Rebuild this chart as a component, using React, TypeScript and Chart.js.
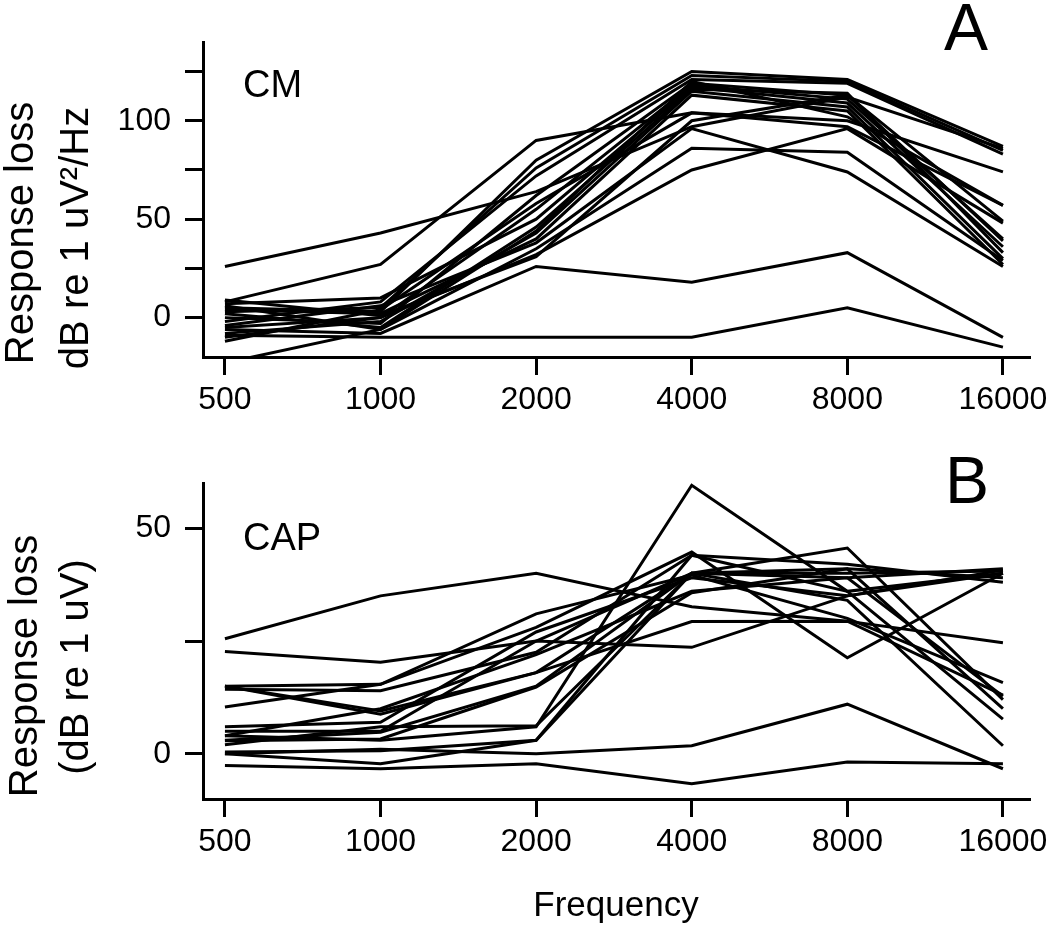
import React, { useEffect, useRef } from 'react';
import Chart from 'chart.js/auto';

const FONT = '"Liberation Sans", Arial, Helvetica, sans-serif';

const frequencies = ['500', '1000', '2000', '4000', '8000', '16000'];

// Panel A (CM) ticks
const cmTicks = [0, 25, 50, 75, 100, 125];
const cmLabeled = [0, 50, 100];
// Panel B (CAP) ticks
const capTicks = [0, 25, 50];
const capLabeled = [0, 50];

// Panel A: CM response loss (dB re 1 uV^2/Hz) at 500..16000 Hz
const cm01 = [26, 43, 64, 97, 112, 86];
const cm02 = [8, 27, 90, 104, 97, 57];
const cm03 = [5, 3, 80, 125, 121, 87];
const cm04 = [3, 5, 76, 123, 120, 85];
const cm05 = [-2, 8, 72, 121, 119, 83];
const cm06 = [0, -3, 62, 119, 113, 49];
const cm07 = [-5, 0, 55, 118, 111, 40];
const cm08 = [7, 10, 50, 117, 109, 36];
const cm09 = [2, -5, 46, 116, 114, 33];
const cm10 = [-8, -2, 43, 115, 107, 30];
const cm11 = [4, 2, 40, 113, 105, 27];
const cm12 = [-4, 6, 38, 96, 74, 26];
const cm13 = [6, -6, 35, 86, 84, 29];
const cm14 = [-10, 0, 32, 75, 96, 48];
const cm15 = [9, 1, 31, 100, 113, 39];
const cm16 = [-6, -8, 26, 18, 33, -10];
const cm17 = [-9, -10, -10, -10, 5, -15];
const cm18 = [-23, -6, 44, 120, 102, 57];
const cm19 = [-12, 4, 58, 104, 100, 74];

// Panel B: CAP response loss (dB re 1 uV)
const cap01 = [25.5, 35, 40, 32.6, 29.4, 24.6];
const cap02 = [22.7, 20.3, 25, 23.6, 35, 40];
const cap03 = [4, 3, 6, 59.5, 36, 40];
const cap04 = [15, 15.4, 28, 44.7, 21.3, 40];
const cap05 = [15, 8.8, 18, 40, 45.6, 12];
const cap06 = [14.3, 14, 22.5, 44, 42, 38];
const cap07 = [10.4, 15.4, 31, 39.6, 30, 15.8];
const cap08 = [6, 7, 27, 39, 35, 40.7];
const cap09 = [5, 5, 25, 40, 34, 1.8];
const cap10 = [4, 10, 22, 36, 39, 12.8];
const cap11 = [3, 4.8, 15, 40, 41, 10];
const cap12 = [2.9, 3.3, 14.8, 35.7, 41, 39];
const cap13 = [0.4, 0.7, 3, 44, 36, 7.7];
const cap14 = [0, 1, 0, 1.8, 11, -3.3];
const cap15 = [-2.6, -3.3, -2.2, -6.6, -1.8, -2.2];
const cap16 = [0, -2.2, 3, 40, 39, 41];
const cap17 = [15, 9.5, 18, 29.3, 29.4, 13];
const cap18 = [2, 6, 6.2, 40, 40, 40.5];

const cmSeries = [cm01, cm02, cm03, cm04, cm05, cm06, cm07, cm08, cm09, cm10, cm11, cm12, cm13, cm14, cm15, cm16, cm17, cm18, cm19];
const capSeries = [cap01, cap02, cap03, cap04, cap05, cap06, cap07, cap08, cap09, cap10, cap11, cap12, cap13, cap14, cap15, cap16, cap17, cap18];

type TextItem = { text: string; x: number; y: number; size: number; align: CanvasTextAlign; rotate?: boolean };

function textPlugin(items: TextItem[]) {
  return {
    id: 'panelText',
    afterDraw(chart: any) {
      const ctx: CanvasRenderingContext2D = chart.ctx;
      for (const t of items) {
        ctx.save();
        ctx.fillStyle = '#000';
        ctx.font = `${t.size}px ${FONT}`;
        ctx.textAlign = t.align;
        ctx.textBaseline = 'alphabetic';
        ctx.translate(t.x, t.y);
        if (t.rotate) ctx.rotate(-Math.PI / 2);
        ctx.fillText(t.text, 0, 0);
        ctx.restore();
      }
    },
  };
}

function buildConfig(
  series: number[][],
  yMin: number,
  yMax: number,
  ticks: number[],
  labeled: number[],
  padTop: number,
  xAxisHeight: number,
  texts: TextItem[]
): any {
  return {
    type: 'line',
    data: {
      datasets: series.map((s, i) => ({
        label: `s${i + 1}`,
        data: s.map((v, j) => ({ x: j, y: v })),
        borderColor: '#000',
        borderWidth: 3,
        pointRadius: 0,
        pointHoverRadius: 0,
        fill: false,
        tension: 0,
      })),
    },
    options: {
      responsive: false,
      animation: false,
      events: [],
      layout: { padding: { top: padTop, right: 20, left: 0, bottom: 0 } },
      plugins: { legend: { display: false }, tooltip: { enabled: false }, title: { display: false } },
      scales: {
        x: {
          type: 'linear',
          min: -0.141,
          max: 5.174,
          border: { display: true, color: '#000', width: 3 },
          grid: { display: true, drawOnChartArea: false, drawTicks: true, tickLength: 18, tickWidth: 3, tickColor: '#000', color: '#000' },
          ticks: {
            color: '#000',
            font: { family: FONT, size: 32 },
            padding: 6,
            maxRotation: 0,
            autoSkip: false,
            callback: (v: number) => frequencies[Math.round(v)] ?? '',
          },
          afterBuildTicks: (s: any) => {
            s.ticks = frequencies.map((_, i) => ({ value: i }));
          },
          afterFit: (s: any) => {
            s.height = xAxisHeight;
            s.paddingLeft = 0;
            s.paddingRight = 0;
          },
        },
        y: {
          type: 'linear',
          min: yMin,
          max: yMax,
          border: { display: true, color: '#000', width: 3 },
          grid: { display: true, drawOnChartArea: false, drawTicks: true, tickLength: 18, tickWidth: 3, tickColor: '#000', color: '#000' },
          ticks: {
            color: '#000',
            font: { family: FONT, size: 32 },
            padding: 14,
            autoSkip: false,
            callback: (v: number) => (labeled.includes(v) ? String(v) : ''),
          },
          afterBuildTicks: (s: any) => {
            s.ticks = ticks.map((v) => ({ value: v }));
          },
          afterFit: (s: any) => {
            s.width = 203;
            s.paddingTop = 0;
            s.paddingBottom = 0;
          },
        },
      },
    },
    plugins: [textPlugin(texts)],
  };
}

const textsA: TextItem[] = [
  { text: 'Response loss', x: 33, y: 233, size: 40, align: 'center', rotate: true },
  { text: 'dB re 1 uV²/Hz', x: 88, y: 238, size: 40, align: 'center', rotate: true },
  { text: 'A', x: 966, y: 50, size: 66, align: 'center' },
  { text: 'CM', x: 243, y: 97, size: 38, align: 'left' },
];

const textsB: TextItem[] = [
  { text: 'Response loss', x: 37, y: 236, size: 40, align: 'center', rotate: true },
  { text: '(dB re 1 uV)', x: 88, y: 237, size: 40, align: 'center', rotate: true },
  { text: 'B', x: 967, y: 73, size: 66, align: 'center' },
  { text: 'CAP', x: 243, y: 120, size: 38, align: 'left' },
  { text: 'Frequency', x: 616, y: 486, size: 35, align: 'center' },
];

export default function App() {
  const refA = useRef<HTMLCanvasElement | null>(null);
  const refB = useRef<HTMLCanvasElement | null>(null);

  useEffect(() => {
    if (!refA.current || !refB.current) return;
    const chartA = new Chart(refA.current, buildConfig(cmSeries, -20, 140, cmTicks, cmLabeled, 42, 73, textsA));
    const chartB = new Chart(refB.current, buildConfig(capSeries, -10, 60, capTicks, capLabeled, 53, 128, textsB));
    return () => {
      chartA.destroy();
      chartB.destroy();
    };
  }, []);

  return (
    <div style={{ position: 'absolute', left: 0, top: 0, width: 1050, height: 927, background: '#fff' }}>
      <canvas ref={refA} width={1050} height={430} style={{ position: 'absolute', left: 0, top: 0, width: 1050, height: 430 }} />
      <canvas ref={refB} width={1050} height={497} style={{ position: 'absolute', left: 0, top: 430, width: 1050, height: 497 }} />
    </div>
  );
}
